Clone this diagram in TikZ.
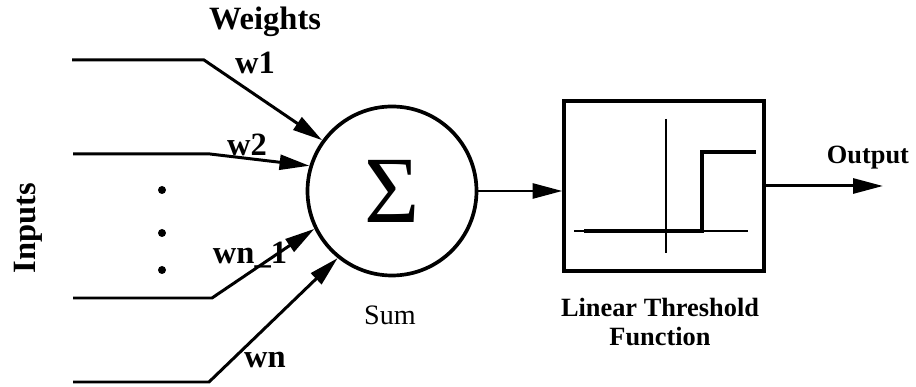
\documentclass[tikz,border=0pt]{standalone}
\usepackage{fontspec}
\setmainfont{Liberation Serif}
\usetikzlibrary{arrows.meta}
\tikzset{
  wire/.style={line width=1.7pt},
  feed/.style={wire, -{Triangle[length=17pt,width=8.5pt]}},
  lbl/.style={font=\fontsize{18.5}{18.5}\selectfont\bfseries, inner sep=0pt},
  caption/.style={font=\fontsize{15}{17}\selectfont\bfseries, inner sep=0pt, align=center}
}
\begin{document}
\begin{tikzpicture}
                \useasboundingbox (0,0) rectangle (18.32,7.74);
                % Define node positions
                \node[circle, draw, line width=2.1pt, minimum size=3.38cm, inner sep=0pt] (sum) at (7.84, 3.92)
                {\fontsize{54}{54}\selectfont Σ};
                \node[rectangle, draw, line width=1.8pt, minimum width=4cm, minimum height=3.4cm, inner sep=0pt] (thr)
                at (13.28, 4.02) {};
                \coordinate (in1) at (1.44, 6.54); \coordinate (b1) at (4.08, 6.54);
                \coordinate (in2) at (1.46, 4.66); \coordinate (b2) at (4.20, 4.66);
                \coordinate (in3) at (1.46, 1.78); \coordinate (b3) at (4.24, 1.78);
                \coordinate (in4) at (1.46, 0.10); \coordinate (b4) at (4.18, 0.10);
                \coordinate (out) at (17.66, 4.02);
                
                % Labels
                \node[lbl] (weights) at (5.30, 7.30) {Weights};
                \node[lbl] (w1) at (5.10, 6.48) {w1};
                \node[lbl] (w2) at (4.94, 4.84) {w2};
                \node[lbl] (wn1) at (5.00, 2.64) {wn\_1};
                \node[lbl] (wn) at (5.30, 0.54) {wn};
                \node[lbl, rotate=90] (inputs) at (0.56, 3.18) {Inputs};
                \node[font=\fontsize{16}{16}\selectfont, inner sep=0pt] (sumlbl) at (7.80, 1.44) {Sum};
                \node[caption] (thrlbl) at (13.20, 1.30) {Linear Threshold\\Function};
                \node[caption] (outlbl) at (17.36, 4.58) {Output};
                
                % Draw arrows
                \draw[feed] (in1) -- (b1) -- (sum.144);
                \draw[feed] (in2) -- (b2) -- (sum.163);
                \draw[feed] (in3) -- (b3) -- (sum.206);
                \draw[feed] (in4) -- (b4) -- (sum.231);
                \draw[feed] (sum.east) -- (sum.east -| thr.west);
                \draw[feed] (thr.east) -- (out);
                
                % Dots between inputs
                \foreach \y in {3.94, 3.08, 2.34}
                  \fill (3.24, \y) circle (0.08);
                
                % Threshold curve
                \draw[line width=0.7pt] (13.32, 5.36) -- (13.32, 2.68);
                \draw[line width=0.7pt] (11.48, 3.12) -- (14.96, 3.12);
                \draw[line width=2.5pt] (11.68, 3.12) -- (14.04, 3.12) -- (14.04, 4.70) -- (15.12, 4.70);
            \end{tikzpicture}
\end{document}
